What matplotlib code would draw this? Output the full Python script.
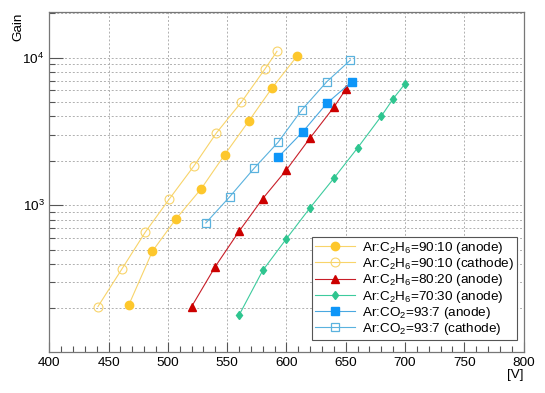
import matplotlib
matplotlib.use('Agg')
import matplotlib.pyplot as plt
from matplotlib.ticker import LogLocator, MultipleLocator, NullFormatter, FixedLocator

plt.rcParams['font.family'] = ['Liberation Sans', 'DejaVu Sans']
plt.rcParams['mathtext.fontset'] = 'custom'
plt.rcParams['mathtext.rm'] = 'Liberation Sans'
plt.rcParams['mathtext.it'] = 'Liberation Sans:italic'

# gain curves (voltage [V], gain)
v_c2h6_9010_anode = [467, 487, 507, 528, 548, 568, 588, 609]
g_c2h6_9010_anode = [211, 489, 812, 1291, 2208, 3698, 6256, 10264]

v_c2h6_9010_cathode = [441, 461, 481, 501, 522, 541, 562, 582, 592]
g_c2h6_9010_cathode = [206, 368, 659, 1098, 1849, 3097, 5001, 8418, 11040]

v_c2h6_8020_anode = [520, 540, 560, 580, 600, 620, 640, 650]
g_c2h6_8020_anode = [206, 385, 666, 1110, 1738, 2865, 4624, 6097]

v_c2h6_7030_anode = [560, 580, 600, 620, 640, 660, 680, 690, 700]
g_c2h6_7030_anode = [180, 362, 594, 964, 1525, 2449, 4018, 5268, 6660]

v_co2_937_anode = [593, 614, 634, 655]
g_co2_937_anode = [2117, 3162, 4898, 6871]

v_co2_937_cathode = [532, 552, 573, 593, 613, 634, 654]
g_co2_937_cathode = [759, 1139, 1792, 2677, 4436, 6871, 9643]

labels = [r'Ar:C$_2$H$_6$=90:10 (anode)',
          r'Ar:C$_2$H$_6$=90:10 (cathode)',
          r'Ar:C$_2$H$_6$=80:20 (anode)',
          r'Ar:C$_2$H$_6$=70:30 (anode)',
          r'Ar:CO$_2$=93:7 (anode)',
          r'Ar:CO$_2$=93:7 (cathode)']

fs = 9.7

fig = plt.figure(figsize=(5.45, 3.93), dpi=100)
ax = fig.add_axes([0.0905, 0.1036, 0.8702, 0.8651])

yellow = '#FDC72C'
yellow_line = '#F8D46A'
ax.plot(v_c2h6_9010_anode, g_c2h6_9010_anode, '-o', color=yellow_line, lw=0.8,
        mfc=yellow, mec=yellow, ms=6.0, label=labels[0])
ax.plot(v_c2h6_9010_cathode, g_c2h6_9010_cathode, '-o', color=yellow_line, lw=0.8,
        mfc='none', mec=yellow_line, mew=0.8, ms=6.4, label=labels[1])
ax.plot(v_c2h6_8020_anode, g_c2h6_8020_anode, '-^', color='#C81E28', lw=0.8,
        mfc='#CC0000', mec='#CC0000', ms=6.0, label=labels[2])
ax.plot(v_c2h6_7030_anode, g_c2h6_7030_anode, '-d', color='#3DCB9E', lw=0.8,
        mfc='#2EC58F', mec='#2EC58F', ms=4.4, label=labels[3])
ax.plot(v_co2_937_anode, g_co2_937_anode, '-s', color='#4AA8E0', lw=0.8,
        mfc='#0E96F8', mec='#0E96F8', ms=5.8, label=labels[4])
ax.plot(v_co2_937_cathode, g_co2_937_cathode, '-s', color='#5AB2DE', lw=0.8,
        mfc='none', mec='#5AB2DE', mew=0.9, ms=6.0, label=labels[5])

ax.set_yscale('log')
ax.set_xlim(400, 800)
ax.set_ylim(101, 20300)

ax.xaxis.set_major_locator(MultipleLocator(50))
ax.xaxis.set_minor_locator(MultipleLocator(10))
ax.yaxis.set_major_locator(FixedLocator([1e3, 1e4]))
ax.yaxis.set_minor_locator(LogLocator(base=10, subs=range(2, 10)))
ax.yaxis.set_minor_formatter(NullFormatter())
ax.set_yticklabels([r'$10^{3}$', r'$10^{4}$'])

ax.grid(True, which='major', axis='x', color='#b0b0b0', ls=(0, (2, 2)), lw=0.7)
ax.grid(True, which='both', axis='y', color='#b0b0b0', ls=(0, (2, 2)), lw=0.7)

ax.tick_params(which='both', direction='in', top=False, right=False,
               labelsize=fs, color='#555555')
ax.tick_params(axis='x', which='major', length=7.2, width=0.8, pad=3.5)
ax.tick_params(axis='y', which='major', length=10, width=0.8, pad=3.5)
ax.tick_params(which='minor', length=4, width=0.8)
for sp in ax.spines.values():
    sp.set_color('#777777')
    sp.set_linewidth(0.9)

ax.set_xlabel('[V]', fontsize=fs, ha='right', x=1.0, labelpad=0)
ax.set_ylabel('Gain', fontsize=fs, ha='right')
ax.yaxis.set_label_coords(-0.053, 1.0)

leg = ax.legend(loc='lower right', bbox_to_anchor=(0.9855, 0.036), fontsize=fs,
                frameon=True, fancybox=False, framealpha=1, edgecolor='#555555',
                handlelength=2.95, labelspacing=0.02, borderpad=0.22,
                handletextpad=0.5, borderaxespad=0)
leg.get_frame().set_linewidth(0.8)

fig.savefig('out.png', dpi=100)
